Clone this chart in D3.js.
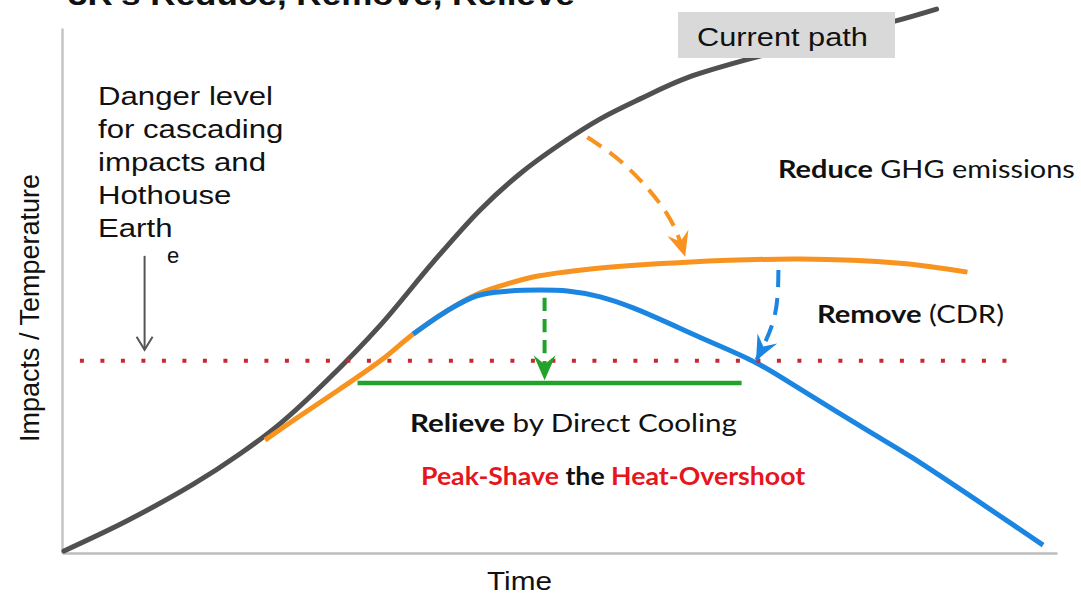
<!DOCTYPE html>
<html>
<head>
<meta charset="utf-8">
<title>3R's Reduce, Remove, Relieve</title>
<script src="https://d3js.org/d3.v7.min.js"></script>
<style>
  body { margin: 0; background: #fff; }
  svg { display: block; }
</style>
</head>
<body>
<svg width="1081" height="596"></svg>
<script>
// time and impact in arbitrary 0-100 units
var currentTime   = [0.2, 6.5, 13.2, 17.9, 21.9, 26.6, 32.0, 37.3, 42.0, 46.0, 50.1, 54.1, 58.1, 62.8, 70.2, 77.2, 83.7, 87.9];
var currentImpact = [0.4, 6.1, 13.1, 18.9, 24.6, 32.8, 43.4, 55.4, 65.3, 72.2, 77.9, 82.7, 86.5, 90.5, 94.7, 98.3, 101.3, 103.6];

var reduceTime   = [20.4, 23.9, 27.9, 32.0, 35.3, 38.5, 41.7, 45.0, 48.0, 54.1, 62.8, 74.2, 84.2, 91.0];
var reduceImpact = [21.5, 26.1, 31.2, 36.6, 41.7, 45.9, 49.3, 51.4, 52.8, 54.3, 55.4, 56.0, 55.2, 53.5];

var removeTime   = [35.3, 38.5, 41.7, 45.0, 48.0, 50.8, 54.1, 57.4, 64.1, 69.8, 74.2, 80.9, 85.5, 98.6];
var removeImpact = [41.7, 45.9, 49.0, 49.9, 50.1, 49.9, 48.8, 46.7, 41.1, 36.2, 31.2, 23.4, 18.1, 1.5];

var dangerLevel = 36.6, dangerSpan = [1.8, 95.5];
var relieveLevel = 32.4, relieveSpan = [29.7, 68.3];

// arrows: [time, impact] from start to tip
var reduceArrow  = [[52.8, 79.2], [56.8, 73.5], [60.8, 64.6], [62.6, 56.6]];
var removeArrow  = [[72.0, 53.9], [71.6, 45.0], [69.8, 36.8]];
var relieveArrow = [[48.5, 48.6], [48.5, 40.0], [48.5, 33.1]];
var dangerArrow  = [[8.3, 56.6], [8.3, 47.0], [8.3, 38.7]];

var dangerLines = ["Danger level", "for cascading", "impacts and", "Hothouse", "Earth"];

var svg = d3.select("svg");
var x = d3.scaleLinear().domain([0, 100]).range([62, 1057]);
var y = d3.scaleLinear().domain([0, 100]).range([553, 28]);

var line = d3.line().x(d => x(d[0])).y(d => y(d[1])).curve(d3.curveCatmullRom.alpha(0.5));
var bend = d3.line().x(d => x(d[0])).y(d => y(d[1])).curve(d3.curveNatural);

// stretch a text group horizontally to a target width
function fit(g, px, py, width) {
  var w = g.node().getBBox().width;
  g.attr("transform", `translate(${px},${py}) scale(${width / w},1)`);
  return width / w;
}

// title, cut off by the top edge
var title = svg.append("g");
title.append("text").text("3R's Reduce, Remove, Relieve")
  .style("font-family", "Liberation Sans").style("font-weight", "bold").style("font-size", "30px").attr("fill", "#111");
fit(title, 68, 5, 507);

// axes with no ticks
svg.append("g").attr("transform", "translate(0,553)")
  .call(d3.axisBottom(x).tickValues([]).tickSizeOuter(0))
  .select(".domain").attr("stroke", "#bdbdbd").attr("stroke-width", 2.5);
svg.append("g").attr("transform", "translate(62,0)")
  .call(d3.axisLeft(y).tickValues([]).tickSizeOuter(0))
  .select(".domain").attr("stroke", "#c4c4c4").attr("stroke-width", 2.5);

// markers
var defs = svg.append("defs");
function head(id, color) {
  defs.append("marker").attr("id", id)
    .attr("markerUnits", "userSpaceOnUse").attr("viewBox", "-26 -13 28 26")
    .attr("refX", 0).attr("refY", 0).attr("markerWidth", 28).attr("markerHeight", 26)
    .attr("orient", "auto")
    .append("path").attr("d", "M1,0L-24,-11L-15,0L-24,11Z").attr("fill", color);
}
head("h-orange", "#f7931e");
head("h-blue", "#1a86e2");
head("h-green", "#22a22a");
defs.append("marker").attr("id", "h-gray")
  .attr("markerUnits", "userSpaceOnUse").attr("viewBox", "-16 -10 18 20")
  .attr("refX", 0).attr("refY", 0).attr("markerWidth", 18).attr("markerHeight", 20)
  .attr("orient", "auto")
  .append("path").attr("d", "M-13,-8L0,0L-13,8").attr("fill", "none").attr("stroke", "#555").attr("stroke-width", 2);

// current path
svg.append("path").datum(d3.zip(currentTime, currentImpact)).attr("d", line)
  .attr("fill", "none").attr("stroke", "#505050").attr("stroke-width", 5).attr("stroke-linecap", "round");

svg.append("rect").attr("x", 678).attr("y", 12).attr("width", 217).attr("height", 46).attr("fill", "#d9d9d9");
var cp = svg.append("g");
cp.append("text").text("Current path")
  .style("font-family", "Liberation Sans").style("font-size", "25px").attr("fill", "#111");
fit(cp, 697, 46, 171);

// reduce and remove paths
svg.append("path").datum(d3.zip(reduceTime, reduceImpact)).attr("d", line)
  .attr("fill", "none").attr("stroke", "#f7931e").attr("stroke-width", 5);
svg.append("path").datum(d3.zip(removeTime, removeImpact)).attr("d", line)
  .attr("fill", "none").attr("stroke", "#1a86e2").attr("stroke-width", 5);

// danger level and relieve level
svg.append("line").attr("x1", x(dangerSpan[0])).attr("x2", x(dangerSpan[1]))
  .attr("y1", y(dangerLevel)).attr("y2", y(dangerLevel))
  .attr("stroke", "#c62a2f").attr("stroke-width", 4).attr("stroke-dasharray", "4,16.5");
svg.append("line").attr("x1", x(relieveSpan[0])).attr("x2", x(relieveSpan[1]))
  .attr("y1", y(relieveLevel)).attr("y2", y(relieveLevel))
  .attr("stroke", "#22a22a").attr("stroke-width", 4.5);

// arrows
svg.append("path").datum(reduceArrow).attr("d", bend)
  .attr("fill", "none").attr("stroke", "#f7931e").attr("stroke-width", 4).attr("stroke-dasharray", "17,10")
  .attr("marker-end", "url(#h-orange)");
svg.append("path").datum(removeArrow).attr("d", bend)
  .attr("fill", "none").attr("stroke", "#1a86e2").attr("stroke-width", 4).attr("stroke-dasharray", "17,11")
  .attr("marker-end", "url(#h-blue)");
svg.append("path").datum(relieveArrow).attr("d", bend)
  .attr("fill", "none").attr("stroke", "#22a22a").attr("stroke-width", 4).attr("stroke-dasharray", "13,8")
  .attr("marker-end", "url(#h-green)");
svg.append("path").datum(dangerArrow).attr("d", bend)
  .attr("fill", "none").attr("stroke", "#555").attr("stroke-width", 2)
  .attr("marker-end", "url(#h-gray)");

// danger text
var dg = svg.append("g");
var dt = dg.append("text").style("font-family", "Liberation Sans").style("font-size", "25px").attr("fill", "#111");
dt.selectAll("tspan").data(dangerLines).join("tspan")
  .attr("x", 0).attr("y", (d, i) => i * 33).text(d => d);
var first = dt.select("tspan").node().getComputedTextLength();
dg.attr("transform", `translate(98,105) scale(${175 / first},1)`);
svg.append("text").attr("x", 167).attr("y", 263).text("e")
  .style("font-family", "Liberation Sans").style("font-size", "22px").attr("fill", "#111");

// labels with a bold lead word
function label(bold, rest, px, py, width) {
  var g = svg.append("g");
  var t = g.append("text").style("font-family", "Lato").style("font-size", "25px").attr("fill", "#111");
  t.append("tspan").style("font-weight", "bold").text(bold);
  t.append("tspan").text(rest);
  fit(g, px, py, width);
}
label("Reduce", " GHG emissions", 778, 178, 297);
label("Remove", " (CDR)", 817, 323, 187);
label("Relieve", " by Direct Cooling", 410, 432, 327);

var ps = svg.append("g");
var pt = ps.append("text").style("font-family", "Lato").style("font-weight", "bold").style("font-size", "25px");
pt.append("tspan").attr("fill", "#e5161d").text("Peak-Shave");
pt.append("tspan").attr("fill", "#111").text(" the ");
pt.append("tspan").attr("fill", "#e5161d").text("Heat-Overshoot");
fit(ps, 421, 485, 385);

// axis titles
var tm = svg.append("g");
tm.append("text").text("Time").style("font-family", "Liberation Sans").style("font-size", "26px").attr("fill", "#111");
fit(tm, 487, 590, 65);

svg.append("text").attr("transform", "translate(39,308) rotate(-90)")
  .attr("text-anchor", "middle").text("Impacts / Temperature")
  .style("font-family", "Liberation Sans").style("font-size", "27px").attr("fill", "#111");
</script>
</body>
</html>
